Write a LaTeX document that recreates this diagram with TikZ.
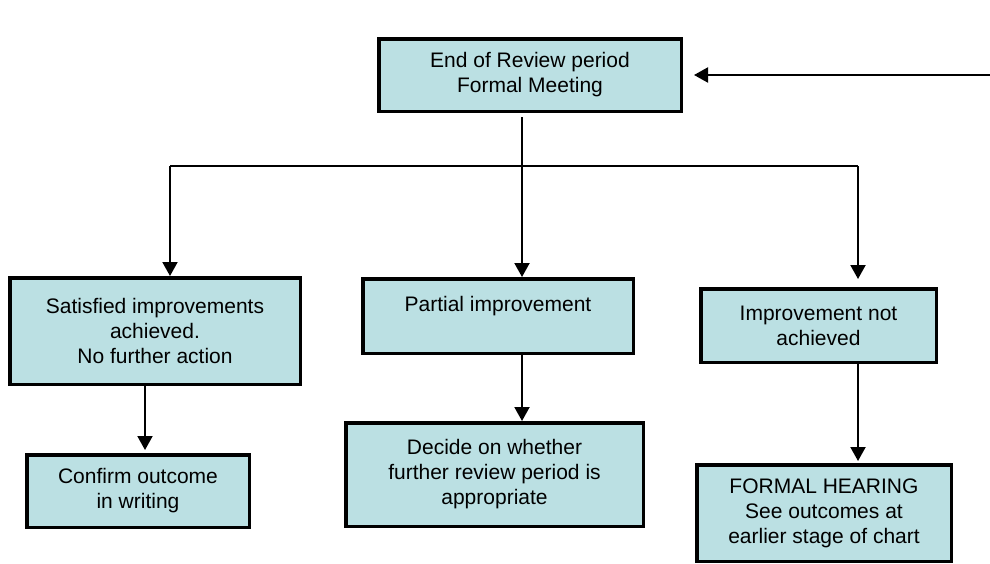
\documentclass[tikz,border=0pt]{standalone}
\usepackage{fontspec}
\setmainfont{Liberation Sans}
\usetikzlibrary{arrows.meta,calc}
\definecolor{boxfill}{RGB}{187,224,227}
\begin{document}
\begin{tikzpicture}[x=1pt,y=-1pt,
  box/.style={draw=black,line width=3.5pt,fill=boxfill,inner sep=0pt,align=center,
    font=\fontsize{21}{25}\selectfont},
  conn/.style={line width=2pt,draw=black},
  arr/.style={conn,-{Triangle[length=14pt,width=15pt]}}]
\useasboundingbox (0,0) rectangle (990,563);
% boxes
\node[box,minimum width=302.5pt,minimum height=72.5pt] (top) at (530,75) {End of Review period\\Formal Meeting};
\node[box,minimum width=290.5pt,minimum height=106.5pt] (sat) at (155,331) {Satisfied improvements\\achieved.\\No further action};
\node[box,minimum width=270.5pt,minimum height=74.5pt] (part) at (498,316) {Partial improvement\\\mbox{}};
\node[box,minimum width=235.5pt,minimum height=73.5pt] (notach) at (818.5,325.5) {Improvement not\\achieved};
\node[box,minimum width=222.5pt,minimum height=72.5pt] (conf) at (138,491) {Confirm outcome\\in writing};
\node[box,minimum width=297.5pt,minimum height=103.5pt] (dec) at (494.5,474.5) {Decide on whether\\further review period is\\appropriate};
\node[box,minimum width=254.5pt,minimum height=96.5pt] (formal) at (824,513) {FORMAL HEARING\\See outcomes at\\earlier stage of chart};
% coordinates
\coordinate (in) at (990,75);
\coordinate (b1) at (170,166);
\coordinate (b2) at (522,166);
\coordinate (b3) at (858,166);
\coordinate (l2) at (145,0);
% connectors
\draw[arr,shorten >=11pt] (in) -- (top.east);
\draw[conn,shorten <=4pt] (top.south -| b2) -- (b2);
\draw[conn] (b1) -- (b3);
\draw[arr] (b1) -- (b1 |- sat.north);
\draw[arr] (b2) -- (b2 |- part.north);
\draw[arr,shorten >=8pt] (b3) -- (b3 |- notach.north);
\draw[arr,shorten >=3pt] (sat.south -| l2) -- (conf.north -| l2);
\draw[arr] (part.south -| b2) -- (dec.north -| b2);
\draw[arr,shorten >=2pt] (notach.south -| b3) -- (formal.north -| b3);
\end{tikzpicture}
\end{document}
